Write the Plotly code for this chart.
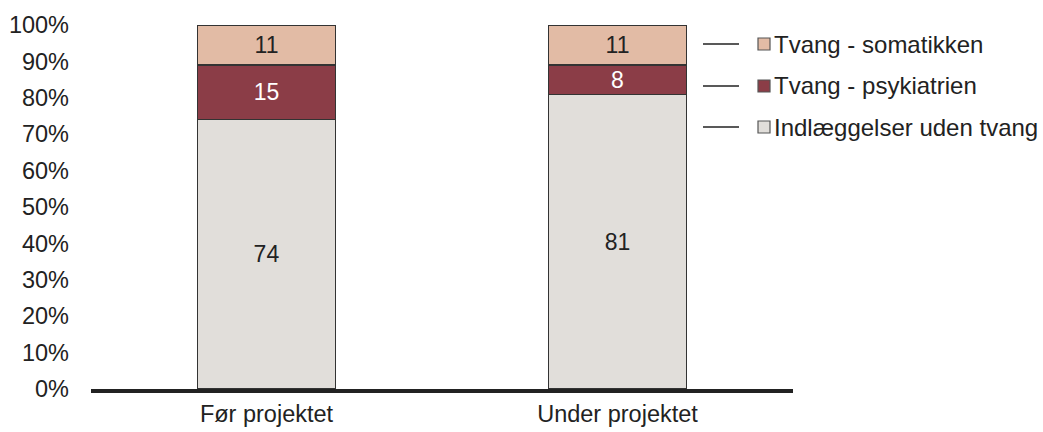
import plotly.graph_objects as go

categories = ["Før projektet", "Under projektet"]
series_names = ["Indlæggelser uden tvang", "Tvang - psykiatrien", "Tvang - somatikken"]
uden_tvang = [74, 81]
psykiatrien = [15, 8]
somatikken = [11, 11]
y_ticks = [0, 10, 20, 30, 40, 50, 60, 70, 80, 90, 100]
y_tick_labels = [f"{v}%" for v in y_ticks]

colors = ["#E1DEDA", "#8B3D47", "#E2BBA5"]
text_colors = ["#222222", "#FFFFFF", "#222222"]
values = [uden_tvang, psykiatrien, somatikken]

W, H = 1043, 432
L, R, T, B = 91, 793, 25, 389
FS = 23.5
FAM = "Liberation Sans, Arial"

fig = go.Figure()
for name, vals, c, tc in zip(series_names, values, colors, text_colors):
    fig.add_trace(go.Bar(
        x=categories, y=vals, name=name,
        marker=dict(color=c, line=dict(color="#333333", width=1.2)),
        text=[str(v) for v in vals], textposition="inside",
        insidetextanchor="middle", textangle=0, constraintext="none",
        textfont=dict(color=tc, size=23, family=FAM),
        showlegend=False, width=0.395,
    ))

def px2x(px):
    return (px - L) / (R - L)

def py2y(py):
    return (B - py) / (B - T)

# manual legend (top entry first)
legend_rows = [(series_names[2], colors[2], 44), (series_names[1], colors[1], 86), (series_names[0], colors[0], 127)]
for name, c, cy in legend_rows:
    fig.add_shape(type="line", xref="paper", yref="paper",
                  x0=px2x(703), x1=px2x(739), y0=py2y(cy), y1=py2y(cy),
                  line=dict(color="#222222", width=1.3))
    fig.add_shape(type="rect", xref="paper", yref="paper",
                  x0=px2x(758), x1=px2x(770), y0=py2y(cy - 6), y1=py2y(cy + 6),
                  fillcolor=c, line=dict(color="#555555", width=1.2))
    fig.add_annotation(xref="paper", yref="paper", x=px2x(772), y=py2y(cy),
                       xanchor="left", yanchor="middle", text=name, showarrow=False,
                       font=dict(size=24, color="#222222", family=FAM))

fig.update_layout(
    barmode="stack", width=W, height=H,
    margin=dict(l=L, r=W - R, t=T, b=H - B),
    plot_bgcolor="white", paper_bgcolor="white",
    font=dict(family=FAM, size=FS, color="#222222"),
    bargap=0.6,
    uniformtext=dict(mode=False),
)
fig.update_xaxes(showline=True, linecolor="#222222", linewidth=3.5, automargin=False,
                 ticks="", tickfont=dict(size=FS), ticklabelstandoff=1)
fig.update_yaxes(range=[0, 100], tickvals=y_ticks, ticktext=y_tick_labels, automargin=False,
                 showgrid=False, zeroline=False, showline=False,
                 ticks="", ticklabelstandoff=21, tickfont=dict(size=FS))

fig.write_html("out.html")
